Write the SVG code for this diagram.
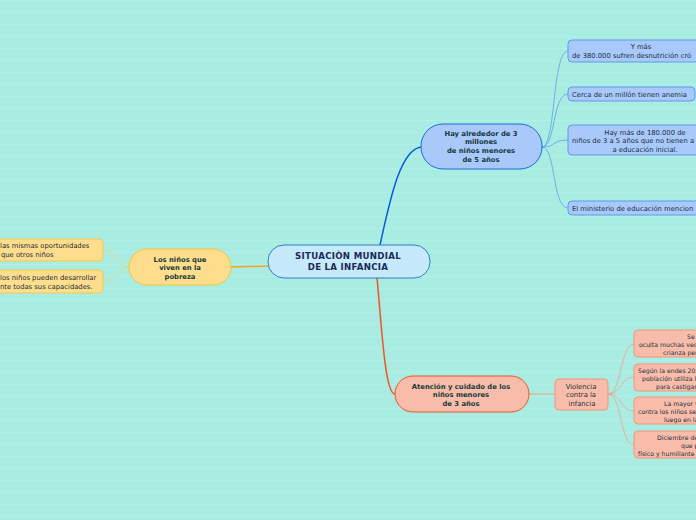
<svg xmlns="http://www.w3.org/2000/svg" width="696" height="520" viewBox="0 0 696 520">
<defs>
<pattern id="bg" width="696" height="12" patternUnits="userSpaceOnUse">
<rect width="696" height="12" fill="#a8ece2"/>
<rect y="0" width="696" height="1.2" fill="#b3efe7"/>
</pattern>
<style>
text{font-family:"DejaVu Sans","Liberation Sans",Arial,sans-serif;font-size:6.8px;fill:#1b2f3a}
.b{font-weight:bold;fill:#163a3a}
.c{text-anchor:middle}
.r{font-size:6.2px}
.blueL{fill:#a9c9fb;stroke:#5b9bea;stroke-width:1}
.redL{fill:#f8bdaa;stroke:#f2957a;stroke-width:1}
.yelL{fill:#fedd8c;stroke:#f3c94f;stroke-width:1}
.cb{fill:none;stroke:#5aa2ea;stroke-width:0.8}
.cr{fill:none;stroke:#f2a088;stroke-width:0.8}
.cy{fill:none;stroke:#e6d77a;stroke-width:0.8}
</style>
</defs>
<rect width="696" height="520" fill="url(#bg)"/>

<g id="connectors">
<path d="M380,245 C390,200 400,150 421,147" fill="none" stroke="#0c5bd8" stroke-width="1.5"/>
<path d="M377,278 C382,330 385,394 395,394" fill="none" stroke="#f05524" stroke-width="1.5"/>
<path d="M268,266 L231,267" fill="none" stroke="#f2a624" stroke-width="1.5"/>
<path d="M542,147 C556,147 552,51 568,51" class="cb"/>
<path d="M542,147 C556,147 552,94 568,94" class="cb"/>
<path d="M542,147 C556,147 552,140 568,140" class="cb"/>
<path d="M542,147 C556,147 552,208 568,208" class="cb"/>
<path d="M129,267 C118,267 115,250 103,250" class="cy"/>
<path d="M129,267 C118,267 115,281 103,281" class="cy"/>
<path d="M529,394 L555,394" fill="none" stroke="#f2a088" stroke-width="1"/>
<path d="M608,394 C622,394 620,344 634,344" class="cr"/>
<path d="M608,394 C622,394 620,377 634,377" class="cr"/>
<path d="M608,394 C622,394 620,411 634,411" class="cr"/>
<path d="M608,394 C622,394 620,445 634,445" class="cr"/>
</g>

<g id="center">
<rect x="268" y="245" width="162" height="33" rx="16" fill="#c6eafb" stroke="#2f80c8" stroke-width="1"/>
<text x="348" y="259" class="c" style="font-size:8.6px;font-weight:bold;fill:#1b2a55;letter-spacing:0.3px">SITUACIÒN MUNDIAL</text>
<text x="348" y="270" class="c" style="font-size:8.6px;font-weight:bold;fill:#1b2a55;letter-spacing:0.3px">DE LA INFANCIA</text>
</g>

<g id="blue-main">
<rect x="421" y="124" width="121" height="45" rx="22" fill="#a9c9fb" stroke="#1a6ad8" stroke-width="1"/>
<text x="481" y="136" class="b c">Hay alrededor de 3</text>
<text x="481" y="144" class="b c">millones</text>
<text x="481" y="153" class="b c">de niños menores</text>
<text x="481" y="162" class="b c">de 5 años</text>
</g>

<g id="blue-1">
<rect x="568" y="40" width="150" height="22" rx="4" class="blueL"/>
<text x="641" y="49" class="c">Y más</text>
<text x="572" y="58">de 380.000 sufren desnutrición cró</text>
</g>
<g id="blue-2">
<rect x="568" y="87" width="127" height="14" rx="4" class="blueL"/>
<text x="572" y="96.5">Cerca de un millón tienen anemia</text>
</g>
<g id="blue-3">
<rect x="568" y="125" width="150" height="30" rx="4" class="blueL"/>
<text x="645" y="134.5" class="c">Hay más de 180.000 de</text>
<text x="572" y="143">niños de 3 a 5 años que no tienen a</text>
<text x="645" y="151.5" class="c">a educación inicial.</text>
</g>
<g id="blue-4">
<rect x="568" y="201" width="150" height="14" rx="4" class="blueL"/>
<text x="572" y="210.5">El ministerio de educación mencion</text>
</g>

<g id="yellow-main">
<rect x="129" y="249" width="102" height="36" rx="18" fill="#fedd8c" stroke="#f2c53a" stroke-width="1"/>
<text x="180" y="262" class="b c">Los niños que</text>
<text x="180" y="270" class="b c">viven en la</text>
<text x="180" y="279" class="b c">pobreza</text>
</g>
<g id="yellow-1">
<rect x="-20" y="239" width="123" height="22" rx="4" class="yelL"/>
<text x="0" y="248">las mismas oportunidades</text>
<text x="1" y="256.5">que otros niños</text>
</g>
<g id="yellow-2">
<rect x="-20" y="270" width="123" height="23" rx="4" class="yelL"/>
<text x="0" y="280">los niños pueden desarrollar</text>
<text x="0" y="288.5">nte todas sus capacidades.</text>
</g>

<g id="red-main">
<rect x="395" y="376" width="134" height="36" rx="18" fill="#f8bdaa" stroke="#f05524" stroke-width="1"/>
<text x="461" y="389" class="b c">Atención y cuidado de los</text>
<text x="461" y="397" class="b c">niños menores</text>
<text x="461" y="406" class="b c">de 3 años</text>
</g>
<g id="violencia">
<rect x="555" y="379" width="53" height="31" rx="4" class="redL"/>
<text x="581" y="389" class="c">Violencia</text>
<text x="581" y="397" class="c">contra la</text>
<text x="582" y="406" class="c">infancia</text>
</g>
<g id="red-1">
<rect x="634" y="330" width="80" height="27" rx="4" class="redL"/>
<text x="687" y="339" class="r">Se</text>
<text x="639" y="347" class="r">oculta muchas vece</text>
<text x="663" y="355" class="r">crianza per</text>
</g>
<g id="red-2">
<rect x="634" y="364" width="80" height="27" rx="4" class="redL"/>
<text x="638" y="373" class="r">Según la endes 20.</text>
<text x="642" y="381" class="r">población utiliza l</text>
<text x="656" y="389" class="r">para castigar</text>
</g>
<g id="red-3">
<rect x="634" y="397" width="80" height="27" rx="4" class="redL"/>
<text x="664" y="406" class="r">La mayor v</text>
<text x="638" y="414" class="r">contra los niños se</text>
<text x="664" y="422" class="r">luego en la</text>
</g>
<g id="red-4">
<rect x="634" y="431" width="80" height="27" rx="4" class="redL"/>
<text x="657" y="440" class="r">Diciembre de</text>
<text x="681" y="448" class="r">que p</text>
<text x="638" y="456" class="r">físico y humillante</text>
</g>
</svg>
